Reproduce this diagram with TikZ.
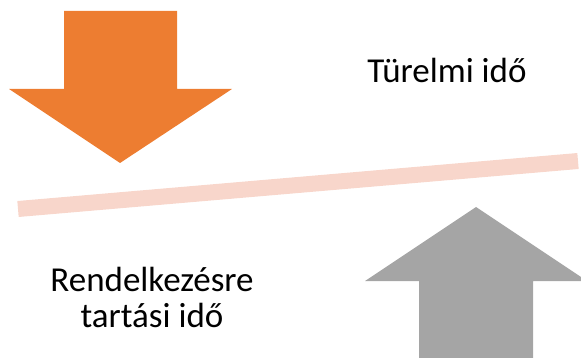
\documentclass[tikz,border=0pt]{standalone}
\usepackage{fontspec}
\setmainfont{Carlito}
\usepackage{tikz}
\usetikzlibrary{positioning}
\definecolor{accorange}{RGB}{237,125,49}
\definecolor{accgray}{RGB}{165,165,165}
\definecolor{barpink}{RGB}{248,214,203}
\tikzstyle{timetext} = [font=\fontsize{35}{37}\selectfont, anchor=base, inner sep=0pt]
\tikzstyle{beam} = [barpink, line width=16pt]

\begin{document}
\begin{tikzpicture}[x=1pt, y=-1pt]
\useasboundingbox (0,0) rectangle (581,358);
\clip (0,0) rectangle (581,358);
% Arrows
\fill [accorange] (64,11) -- (177,11) -- (177,89) -- (232,89) -- (120,163) -- (9,89) -- (64,89) -- cycle;
\fill [accgray] (419,360) -- (419,281) -- (365,281) -- (476,207) -- (587,281) -- (533,281) -- (533,360) -- cycle;
% Beam
\coordinate (beamleft) at (18,209);
\coordinate (beamright) at (578,161);
\draw [beam] (beamleft) -- (beamright);
% Texts
\node (patience) [timetext] at (447,83) {Türelmi idő};
\node (hold1) [timetext] at (152,291) {Rendelkezésre};
\node (hold2) [timetext] at (152,327) {tartási idő};
\end{tikzpicture}
\end{document}
